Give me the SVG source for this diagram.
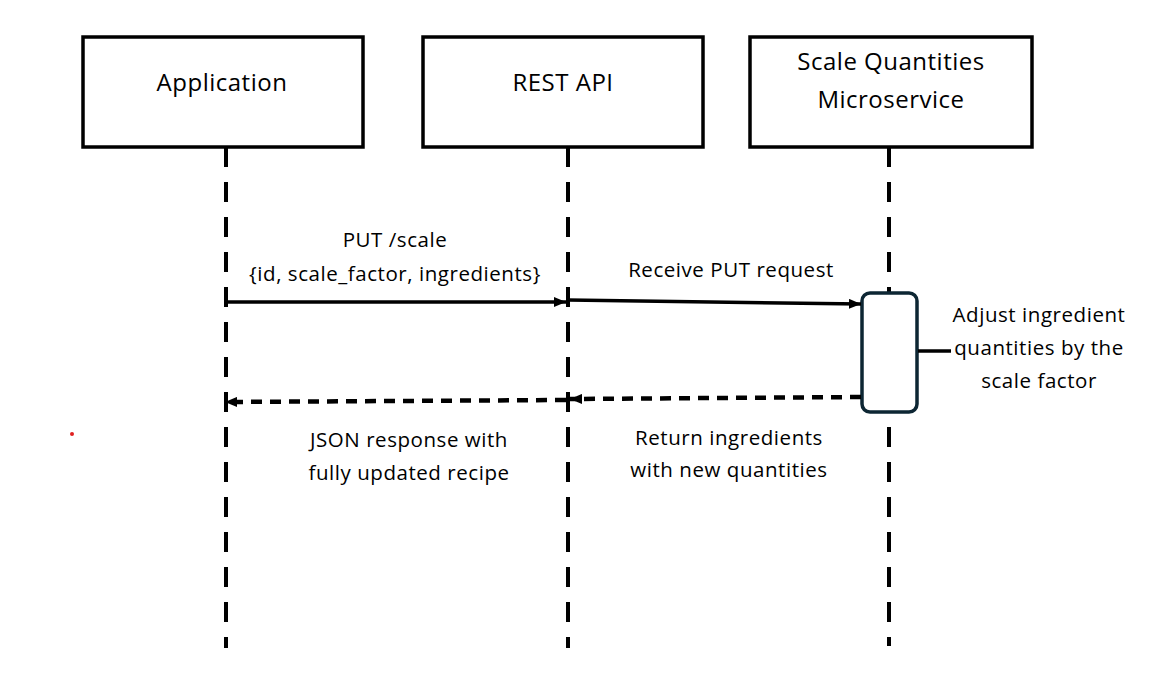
<svg xmlns="http://www.w3.org/2000/svg" width="1154" height="677" viewBox="0 0 1154 677">
<style>
.box{fill:#fff;stroke:#000;stroke-width:3.5}
.life{stroke:#000;stroke-width:4;stroke-dasharray:20 15;fill:none}
.t{font-family:"Open Sans","Liberation Sans",sans-serif;fill:#000;text-anchor:middle}
.title{font-size:24px;letter-spacing:0.5px}
.lbl{font-size:20.5px;letter-spacing:0.55px}
.msg{stroke:#000;stroke-width:3.5;fill:none}
.ret{stroke:#000;stroke-width:4.5;fill:none;stroke-dasharray:11 8}
</style>
<defs>
<marker id="ah" viewBox="0 0 12 10" refX="12" refY="5" markerWidth="12" markerHeight="10" markerUnits="userSpaceOnUse" orient="auto">
<path d="M0,0 L12,5 L0,10 Z" fill="#000"/>
</marker>
</defs>
<rect width="1154" height="677" fill="#fff"/>
<g id="lifelines">
<line class="life" x1="226" y1="147" x2="226" y2="648"/>
<line class="life" x1="568" y1="147" x2="568" y2="648"/>
<line class="life" x1="889" y1="147" x2="889" y2="646"/>
</g>
<g id="node-application">
<rect class="box" x="83" y="37" width="280" height="110"/>
<text class="t title" x="222" y="91">Application</text>
</g>
<g id="node-restapi">
<rect class="box" x="423" y="37" width="280" height="110"/>
<text class="t title" x="563" y="91">REST API</text>
</g>
<g id="node-microservice">
<rect class="box" x="750" y="37" width="282" height="110"/>
<text class="t title" x="891" y="70">Scale Quantities</text>
<text class="t title" x="891" y="108">Microservice</text>
</g>
<g id="node-activation">
<rect x="862" y="293" width="55" height="119" rx="8" ry="8" fill="#fff" stroke="#0d2633" stroke-width="3.5"/>
</g>
<g id="connectors">
<line class="msg" x1="226" y1="302" x2="566" y2="302" marker-end="url(#ah)"/>
<line class="msg" x1="568" y1="300" x2="861" y2="304" marker-end="url(#ah)"/>
<line class="ret" x1="861" y1="397" x2="570" y2="399" marker-end="url(#ah)"/>
<line class="ret" x1="566" y1="400" x2="225" y2="402" marker-end="url(#ah)"/>
<line stroke="#000" stroke-width="3.5" x1="918" y1="351" x2="951" y2="351"/>
</g>
<g id="labels">
<text class="t lbl" x="395" y="247">PUT /scale</text>
<text class="t lbl" x="395" y="281">{id, scale_factor, ingredients}</text>
<text class="t lbl" x="731" y="277">Receive PUT request</text>
<text class="t lbl" x="1039" y="322">Adjust ingredient</text>
<text class="t lbl" x="1039" y="355">quantities by the</text>
<text class="t lbl" x="1039" y="388">scale factor</text>
<text class="t lbl" x="409" y="447">JSON response with</text>
<text class="t lbl" x="409" y="480">fully updated recipe</text>
<text class="t lbl" x="729" y="445">Return ingredients</text>
<text class="t lbl" x="729" y="477">with new quantities</text>
</g>
<circle cx="72" cy="434" r="2" fill="#e02020"/>
</svg>
